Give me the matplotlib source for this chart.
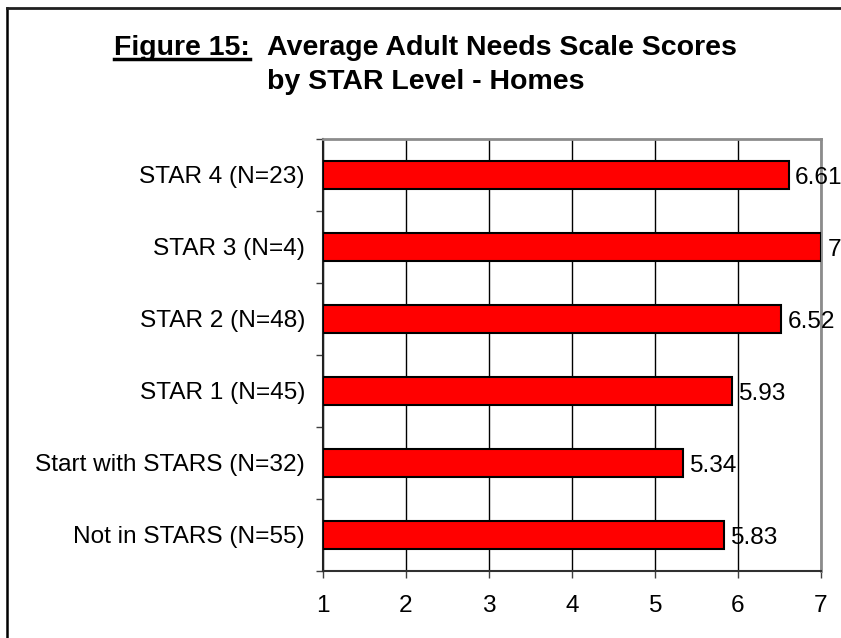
import numpy as np
import matplotlib
matplotlib.use("Agg")
from matplotlib import pyplot as plt
from matplotlib.lines import Line2D

plt.rcParams['font.family'] = ['Liberation Sans', 'DejaVu Sans']

categories = ["STAR 4 (N=23)", "STAR 3 (N=4)", "STAR 2 (N=48)",
              "STAR 1 (N=45)", "Start with STARS (N=32)", "Not in STARS (N=55)"]
scores = [6.61, 7, 6.52, 5.93, 5.34, 5.83]
score_labels = ["6.61", "7", "6.52", "5.93", "5.34", "5.83"]
xticks = [1, 2, 3, 4, 5, 6, 7]

W, H = 841, 638
fs = 17.6
fig = plt.figure(figsize=(W / 100, H / 100), dpi=100)

# axes placed in pixel terms
ax = fig.add_axes([323 / W, (H - 571) / H, (821 - 323) / W, (571 - 139) / H])

y = np.arange(len(categories))
ax.barh(y, np.array(scores) - 1, left=1, height=0.4, color="#ff0000",
        edgecolor="black", linewidth=1.5, zorder=3)

for yi, s, lab in zip(y, scores, score_labels):
    ax.annotate(lab, (s, yi), xytext=(4.5, 0), textcoords="offset points",
                va="center_baseline", ha="left", fontsize=fs,
                annotation_clip=False, zorder=4)

ax.set_xlim(1, 7)
ax.set_ylim(len(categories) - 0.5, -0.5)
ax.set_xticks(xticks)
ax.set_xticklabels([str(t) for t in xticks], fontsize=fs)
ax.set_yticks(y)
ax.set_yticklabels(categories, fontsize=fs)
ax.set_yticks(np.arange(-0.5, len(categories), 1), minor=True)

ax.tick_params(axis="y", which="major", length=0, pad=13)
ax.tick_params(axis="y", which="minor", length=5, width=1, color="#404040")
ax.tick_params(axis="x", which="major", length=5, width=1, color="#404040", pad=12)

ax.xaxis.grid(True, color="black", linewidth=1)
ax.set_axisbelow(True)

ax.spines["left"].set_color("#202020")
ax.spines["left"].set_linewidth(1.5)
ax.spines["bottom"].set_color("#303030")
ax.spines["bottom"].set_linewidth(1.5)
ax.spines["top"].set_color("#8c8c8c")
ax.spines["top"].set_linewidth(2)
ax.spines["right"].set_color("#8c8c8c")
ax.spines["right"].set_linewidth(2)

# title, two lines, with underlined lead-in
t1 = fig.text(114 / W, 1 - 55 / H, "Figure 15:", fontsize=20.5, fontweight="bold",
              ha="left", va="baseline")
fig.text(267 / W, 1 - 55 / H, "Average Adult Needs Scale Scores", fontsize=20.5,
         fontweight="bold", ha="left", va="baseline")
fig.text(267 / W, 1 - 89 / H, "by STAR Level - Homes", fontsize=20.5,
         fontweight="bold", ha="left", va="baseline")

r = fig.canvas.get_renderer()
bb = t1.get_window_extent(renderer=r)
fig.add_artist(Line2D([bb.x0 / W, bb.x1 / W], [1 - 59 / H, 1 - 59 / H],
                      color="black", linewidth=2.5, transform=fig.transFigure))

# outer frame (left and top edges visible)
fig.add_artist(Line2D([7 / W, 7 / W], [0, 1 - 8 / H], color="black",
                      linewidth=1.8, transform=fig.transFigure))
fig.add_artist(Line2D([7 / W, 1], [1 - 8 / H, 1 - 8 / H], color="#202020",
                      linewidth=2, transform=fig.transFigure))

fig.savefig("out.png", dpi=100)
